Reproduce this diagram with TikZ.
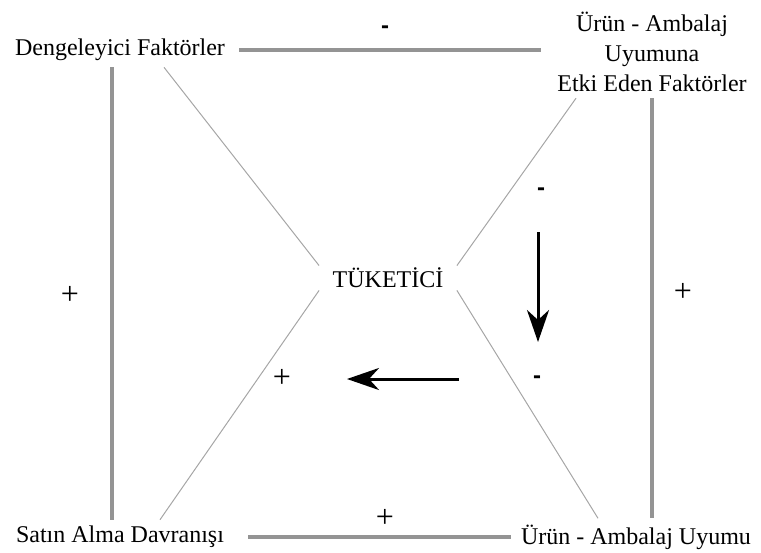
\documentclass[tikz,border=0pt]{standalone}
\usepackage{fontspec}
\setmainfont{Liberation Serif}
\newfontfamily\signfont{Liberation Sans}
\usetikzlibrary{arrows.meta, positioning}

\begin{document}
\begin{tikzpicture}[
    x=0.5pt, y=-0.5pt,
    factor/.style={
        inner sep=3pt,
        align=center,
        font=\fontsize{12}{15}\selectfont
    },
    core/.style={
        inner sep=0pt,
        minimum width=68.5pt,
        minimum height=12pt,
        font=\fontsize{12}{15}\selectfont
    },
    link/.style={
        draw=black!42,
        line width=1.75pt
    },
    spoke/.style={
        draw=black!35,
        line width=0.5pt
    },
    arrow/.style={
        line width=1.5pt,
        -{Stealth[length=16pt, width=11pt, inset=5pt]}
    },
    minus/.style={font=\signfont\bfseries\fontsize{12}{14}\selectfont},
    plus/.style={font=\fontsize{16}{18}\selectfont}
]
    \useasboundingbox (0,0) rectangle (761,552);

    % Nodes
    \node [factor] (dengeleyici) at (120,50) {Dengeleyici Faktörler};
    \node [factor] (etki) at (652,52) {Ürün - Ambalaj\\ Uyumuna\\ Etki Eden Faktörler};
    \node [core] (tuketici) at (388,278) {TÜKETİCİ};
    \node [factor] (satin) at (120,537) {Satın Alma Davranışı};
    \node [factor] (uyum) at (636,537) {Ürün - Ambalaj Uyumu};

    % Frame
    \draw [link, shorten <=4pt, shorten >=5pt] (dengeleyici.east) -- (dengeleyici.east -| etki.west);
    \draw [link, shorten <=9pt, shorten >=2pt] (satin.east) -- (satin.east -| uyum.west);
    \draw [link] ([xshift=-4pt]dengeleyici.south) -- ([xshift=-4pt]satin.north);
    \draw [link] (etki.south) -- (etki.south |- uyum.north);

    % Spokes
    \draw [spoke] ([xshift=22pt]dengeleyici.south) -- (tuketici.north west);
    \draw [spoke] ([xshift=20pt]satin.north) -- (tuketici.south west);
    \draw [spoke] ([xshift=-38pt]etki.south) -- (tuketici.north east);
    \draw [spoke] ([xshift=-19pt]uyum.north) -- (tuketici.south east);

    % Arrows
    \coordinate (downtop) at (538,232);
    \coordinate (downend) at (538,342);
    \coordinate (lefttop) at (459,379);
    \coordinate (leftend) at (347,379);
    \draw [arrow] (downtop) -- (downend);
    \draw [arrow] (lefttop) -- (leftend);

    % Signs
    \node [minus] (topsign) at (385,30) {-};
    \node [minus] (rightsign) at (541,192) {-};
    \node [minus] (lowsign) at (537,380) {-};
    \node [plus] (innersign) at (282,378) {+};
    \node [plus] (leftsign) at (70,295) {+};
    \node [plus] (sidesign) at (683,292) {+};
    \node [plus] (bottomsign) at (385,518) {+};
\end{tikzpicture}
\end{document}
